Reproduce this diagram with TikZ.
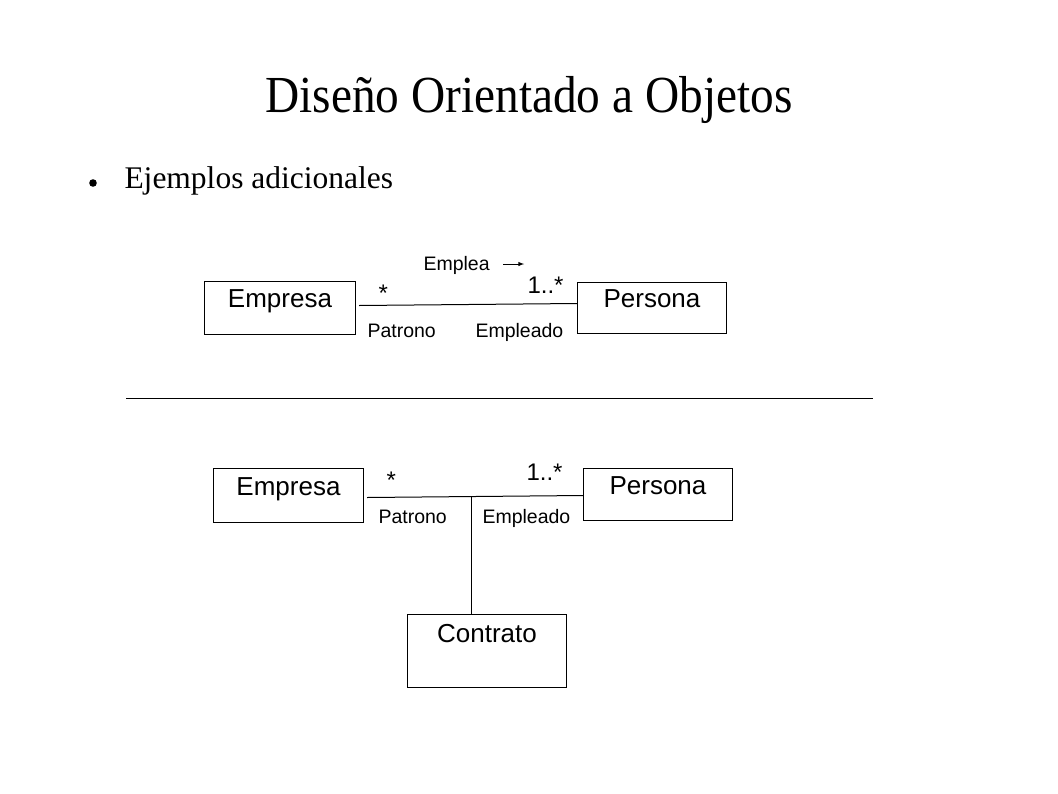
\documentclass[tikz,border=0pt]{standalone}
\usepackage{fontspec}
\setmainfont{Liberation Serif}
\newfontfamily\arial{Liberation Sans}
\begin{document}
\begin{tikzpicture}[x=1pt, y=-1pt, >=latex, line width=1pt,
  box/.style={draw, inner sep=0pt, anchor=north west, font=\arial\fontsize{26}{30}\selectfont},
  txt/.style={inner sep=0pt, anchor=base west, font=\arial\fontsize{19.5}{22}\selectfont},
  mult/.style={inner sep=0pt, anchor=base west, font=\arial\fontsize{24}{28}\selectfont}]
\useasboundingbox (0,0) rectangle (1058,793);

\node[inner sep=0pt, anchor=base] (title) at (529,112)
  {\fontsize{52}{60}\selectfont\scalebox{0.91}[1]{Diseño Orientado a Objetos}};
\fill (93,183) circle (3.8) coordinate (dot);
\node[inner sep=0pt, anchor=base west, font=\fontsize{31.5}{38}\selectfont] (sub) at (124,188) {Ejemplos adicionales};

% first example
\node[box, minimum width=151pt, text height=26pt, text depth=27pt] (emp1) at (204,281) {Empresa};
\node[box, minimum width=149pt, text height=25pt, text depth=26pt] (per1) at (577,282) {Persona};
\draw ([shift={(3,-2.5)}]emp1.east) -- ([shift={(0,-4.5)}]per1.west);
\node[mult] (m11) at (378,301) {*};
\node[mult] (m12) at (527,293) {1..*};
\node[txt] (emplea) at (423,270) {Emplea};
\draw[->] ([shift={(13,-6)}]emplea.base east) -- ++(21,0);
\node[txt] (pat1) at (367,337) {Patrono};
\node[txt] (epl1) at (475,337) {Empleado};

\draw (126,398) -- (873,398);

% second example
\node[box, minimum width=150pt, text height=27pt, text depth=27pt] (emp2) at (213,468) {Empresa};
\node[box, minimum width=149pt, text height=26pt, text depth=26pt] (per2) at (583,468) {Persona};
\node[box, minimum width=159pt, text height=28pt, text depth=45pt] (con) at (407,614) {Contrato};
\draw ([shift={(3,2)}]emp2.east) -- ([shift={(0,1)}]per2.west);
\coordinate (j) at (471,496);
\draw (j) -- (j |- con.north);
\node[mult] (m21) at (386,488) {*};
\node[mult] (m22) at (526,480) {1..*};
\node[txt] (pat2) at (378,523) {Patrono};
\node[txt] (epl2) at (482,523) {Empleado};
\end{tikzpicture}
\end{document}
